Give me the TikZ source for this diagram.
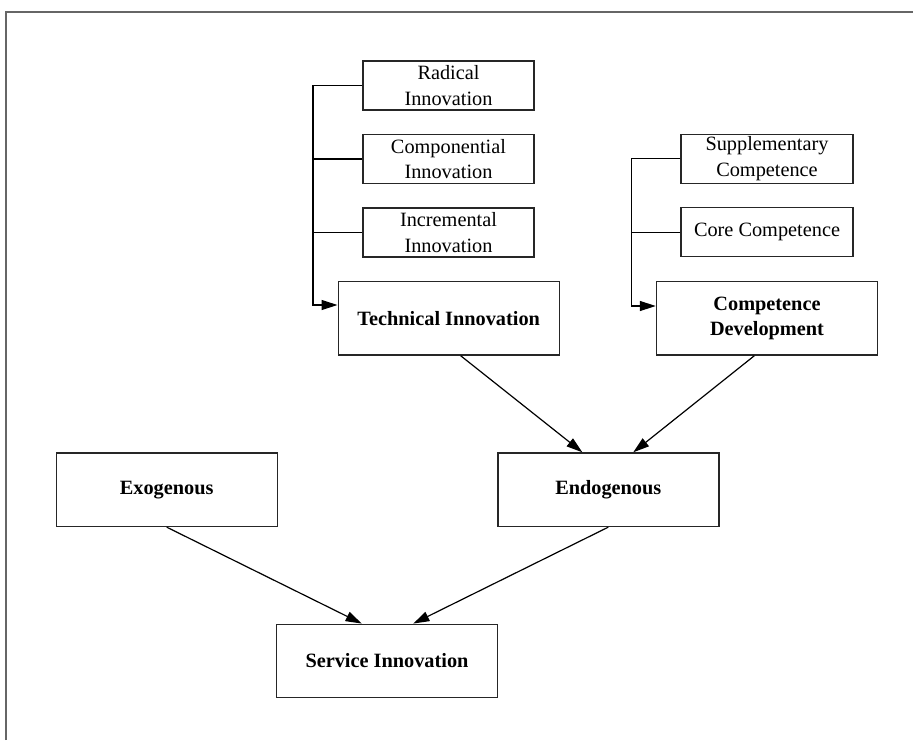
\documentclass[tikz,border=0pt]{standalone}
\usepackage{fontspec}
\setmainfont{Liberation Serif}
\usetikzlibrary{arrows.meta}
\begin{document}
\begin{tikzpicture}[x=1pt,y=-1pt,
  box/.style={draw=black!85, line width=1.4pt, inner sep=0pt, align=center,
    font=\fontsize{20.3}{25.5}\selectfont},
  smallbox/.style={box, minimum width=171pt, minimum height=49pt},
  bigbox/.style={box, minimum width=221pt, minimum height=73.5pt,
    font=\fontsize{20.3}{25}\selectfont\bfseries},
  conn/.style={line width=1.2pt, black},
  arr/.style={conn, -{Triangle[length=16pt, width=10pt]}}]
\useasboundingbox (0,0) rectangle (913,740);
% outer frame
\draw[black!60, line width=2pt] (6,740) -- (6,12) -- (913,12);

% technical innovation branch
\node[smallbox] (rad)  at (448.5,85.5)  {Radical\\Innovation};
\node[smallbox] (comp) at (448.5,159)   {Componential\\Innovation};
\node[smallbox] (incr) at (448.5,232.3) {Incremental\\Innovation};
\node[bigbox]   (tech) at (448.7,318.3) {Technical Innovation};

% competence branch
\node[smallbox, minimum width=172pt] (supp) at (767,158.8) {Supplementary\\Competence};
\node[smallbox, minimum width=172pt] (core) at (767,232.2) {Core Competence};
\node[bigbox] (cdev) at (767,318.3) {Competence\\Development};

% lower levels
\node[bigbox] (exo)  at (166.7,489.7) {Exogenous};
\node[bigbox] (endo) at (608.3,489.7) {Endogenous};
\node[bigbox] (serv) at (387,661)     {Service Innovation};

% brackets
\draw[arr] (rad.west) -- ++(-49.3,0) coordinate (tk) |- ([yshift=13.3pt]tech.west);
\draw[conn] (comp.west) -- (comp.west -| tk);
\draw[conn] (incr.west) -- (incr.west -| tk);

\draw[arr] (supp.west) -- ++(-48.7,0) coordinate (ck) |- ([yshift=12.3pt]cdev.west);
\draw[conn] (core.west) -- (core.west -| ck);

% flows
\draw[arr] ([xshift=12pt]tech.south) -- ([xshift=-26pt]endo.north);
\draw[arr] ([xshift=-12.7pt]cdev.south) -- ([xshift=25pt]endo.north);
\draw[arr] (exo.south) -- ([xshift=-25.3pt]serv.north);
\draw[arr] (endo.south) -- ([xshift=26.3pt]serv.north);
\end{tikzpicture}
\end{document}
